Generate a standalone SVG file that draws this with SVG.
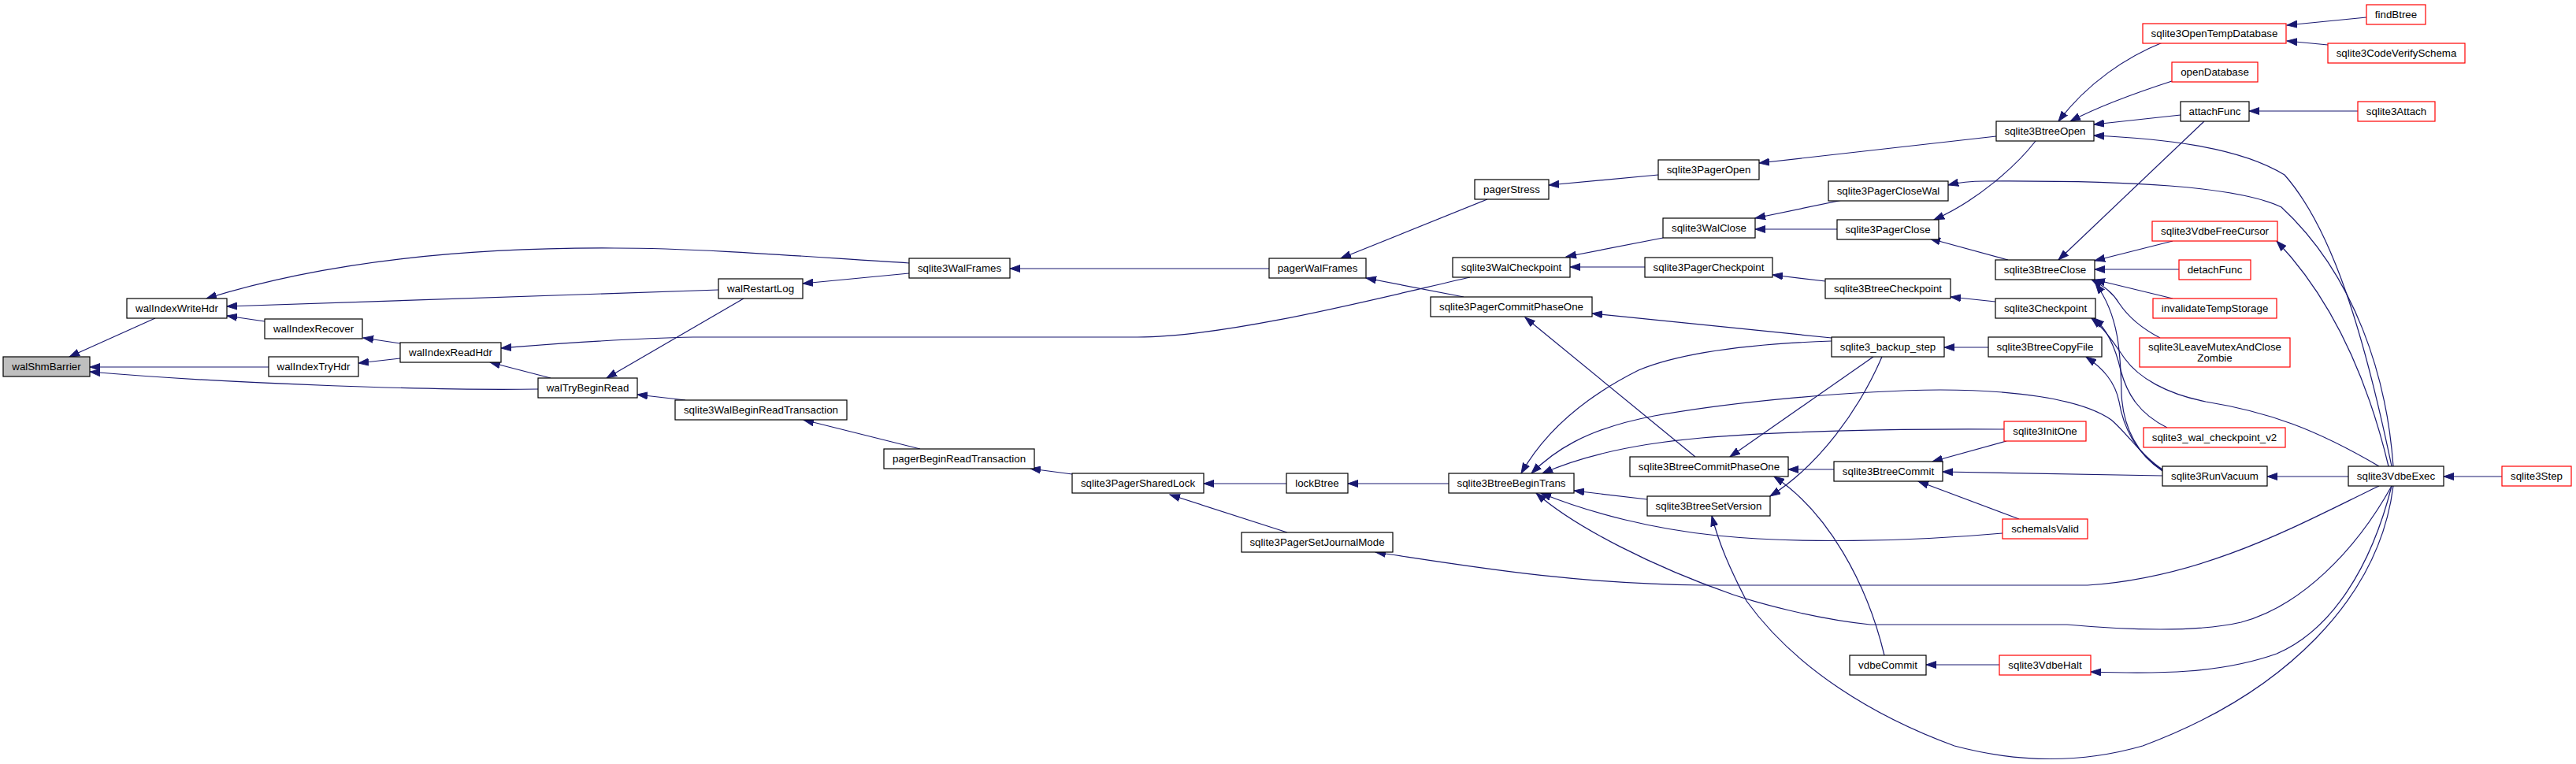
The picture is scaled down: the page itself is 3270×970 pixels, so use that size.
<svg xmlns="http://www.w3.org/2000/svg" width="3270" height="970" viewBox="0 0 3270 970">
<defs>
<marker id="a" markerWidth="14" markerHeight="10" refX="13" refY="5" orient="auto" markerUnits="userSpaceOnUse"><path d="M0,0.5 L13,5 L0,9.5 z" fill="#191970" stroke="#191970" stroke-width="1"/></marker>
<style>
rect{fill:#ffffff;stroke:#000000;stroke-width:1.2}
.r rect{stroke:#ff0000}
.g rect{fill:#bfbfbf}
text{font-family:"Liberation Sans",Arial,Helvetica,sans-serif;font-size:13.33px;fill:#000000;text-anchor:middle}
#edges path{fill:none;stroke:#191970;stroke-width:1.2;marker-end:url(#a)}
</style>
</defs>
<rect x="0" y="0" width="3270" height="970" style="fill:#ffffff;stroke:none"/>
<g id="edges">
<path d="M197,404 L88,453"/>
<path d="M341,466 L114,466"/>
<path d="M683,494 C560,496 300,488 114,472"/>
<path d="M1154,334 C1050,328 900,315 780,315 C600,314 420,330 262,379"/>
<path d="M912,368 L288,389"/>
<path d="M336,408 L288,401"/>
<path d="M508,436 L461,429"/>
<path d="M508,455 L455,461"/>
<path d="M1866,352 C1760,376 1560,428 1444,428 L880,428 C780,430 700,437 636,442"/>
<path d="M699,480 L622,460"/>
<path d="M944,379 L770,480"/>
<path d="M870,508 L809,501"/>
<path d="M1154,347 L1019,360"/>
<path d="M1611,341 L1282,341"/>
<path d="M1168,570 L1020,533"/>
<path d="M1361,602 L1308,595"/>
<path d="M1633,614 L1528,614"/>
<path d="M1634,676 L1485,628"/>
<path d="M1839,614 L1711,614"/>
<path d="M1888,253 L1702,328"/>
<path d="M1858,377 L1734,353"/>
<path d="M2105,222 L1966,235"/>
<path d="M2534,173 L2233,207"/>
<path d="M2111,302 L1988,326"/>
<path d="M2088,339 L1993,339"/>
<path d="M2339,254 L2228,277"/>
<path d="M2332,291 L2228,291"/>
<path d="M3038,592 C3030,480 2990,350 2896,263 C2840,236 2700,229 2520,230 C2500,230 2485,232 2473,235"/>
<path d="M2584,179 C2560,210 2510,255 2455,279"/>
<path d="M2549,330 L2450,303"/>
<path d="M2317,357 L2250,349"/>
<path d="M2533,383 L2476,377"/>
<path d="M2325,429 L2021,398"/>
<path d="M2152,580 L1936,403"/>
<path d="M2325,433 C2240,436 2140,445 2080,470 C2010,505 1960,550 1931,601"/>
<path d="M2745,596 C2720,580 2700,550 2680,533 C2640,505 2550,495 2463,495 C2350,496 2200,510 2100,528 C2010,545 1970,575 1944,601"/>
<path d="M2544,545 C2400,544 2250,548 2160,556 C2080,563 2010,578 1958,601"/>
<path d="M2091,634 L1998,623"/>
<path d="M2542,677 C2420,688 2280,690 2180,680 C2100,672 2020,652 1956,626"/>
<path d="M3036,617 C2990,700 2920,770 2845,790 C2790,803 2700,800 2624,793 L2374,793 C2300,785 2230,765 2200,755 C2100,720 2000,670 1950,626"/>
<path d="M3020,617 C2920,665 2800,733 2650,743 L2160,743 C1990,741 1860,718 1746,701"/>
<path d="M2378,453 L2196,580"/>
<path d="M2328,596 L2270,596"/>
<path d="M2392,832 C2370,740 2320,650 2252,605"/>
<path d="M2389,453 C2360,520 2310,590 2247,630"/>
<path d="M3038,617 C3020,760 2900,880 2720,947 C2640,970 2560,968 2481,947 C2380,910 2280,850 2217,763 C2195,720 2182,690 2173,655"/>
<path d="M2745,54 C2700,72 2650,105 2613,154"/>
<path d="M2757,103 C2720,115 2670,132 2628,154"/>
<path d="M2768,146 L2658,158"/>
<path d="M3036,592 C3000,420 2960,290 2900,222 C2840,185 2740,176 2658,172"/>
<path d="M2798,154 L2613,330"/>
<path d="M2758,306 L2659,331"/>
<path d="M2766,342 L2659,342"/>
<path d="M2758,379 L2659,355"/>
<path d="M2742,429 C2715,415 2700,400 2690,385 C2682,372 2672,364 2655,355"/>
<path d="M2745,598 C2715,578 2695,545 2693,500 C2692,450 2690,400 2660,360"/>
<path d="M2751,543 C2715,525 2700,500 2692,470 C2685,440 2675,418 2658,404"/>
<path d="M3020,592 C2940,545 2880,523 2800,510 C2750,500 2715,480 2697,455 C2683,435 2672,418 2655,404"/>
<path d="M2745,597 C2710,575 2695,540 2690,510 C2685,485 2670,468 2648,453"/>
<path d="M2547,560 L2453,586"/>
<path d="M2745,604 L2466,599"/>
<path d="M2563,659 L2435,611"/>
<path d="M2538,844 L2445,844"/>
<path d="M3036,617 C3010,720 2960,800 2890,830 C2820,855 2740,856 2654,853"/>
<path d="M2981,605 L2878,605"/>
<path d="M3176,605 L3102,605"/>
<path d="M3004,22 L2903,32"/>
<path d="M2955,57 L2903,52"/>
<path d="M2993,141 L2855,141"/>
<path d="M3032,592 C3010,500 2970,390 2890,306"/>
<path d="M2524,441 L2468,441"/>
</g>
<g id="walShmBarrier" class="g"><rect x="4" y="453" width="110" height="25"/><text x="59" y="470">walShmBarrier</text></g>
<g id="walIndexWriteHdr"><rect x="161" y="379" width="127" height="25"/><text x="224.5" y="396">walIndexWriteHdr</text></g>
<g id="walIndexRecover"><rect x="336" y="405" width="124" height="25"/><text x="398" y="422">walIndexRecover</text></g>
<g id="walIndexTryHdr"><rect x="341" y="453" width="114" height="25"/><text x="398" y="470">walIndexTryHdr</text></g>
<g id="walIndexReadHdr"><rect x="508" y="435" width="128" height="25"/><text x="572" y="452">walIndexReadHdr</text></g>
<g id="walRestartLog"><rect x="912" y="354" width="107" height="25"/><text x="965.5" y="371">walRestartLog</text></g>
<g id="walTryBeginRead"><rect x="683" y="480" width="126" height="25"/><text x="746" y="497">walTryBeginRead</text></g>
<g id="sqlite3WalBeginReadTransaction"><rect x="857" y="508" width="218" height="25"/><text x="966" y="525">sqlite3WalBeginReadTransaction</text></g>
<g id="sqlite3WalFrames"><rect x="1154" y="328" width="128" height="25"/><text x="1218" y="345">sqlite3WalFrames</text></g>
<g id="pagerBeginReadTransaction"><rect x="1122" y="570" width="191" height="25"/><text x="1217.5" y="587">pagerBeginReadTransaction</text></g>
<g id="pagerWalFrames"><rect x="1611" y="328" width="123" height="25"/><text x="1672.5" y="345">pagerWalFrames</text></g>
<g id="sqlite3PagerSharedLock"><rect x="1361" y="601" width="167" height="25"/><text x="1444.5" y="618">sqlite3PagerSharedLock</text></g>
<g id="lockBtree"><rect x="1633" y="601" width="78" height="25"/><text x="1672" y="618">lockBtree</text></g>
<g id="sqlite3PagerSetJournalMode"><rect x="1576" y="676" width="192" height="25"/><text x="1672" y="693">sqlite3PagerSetJournalMode</text></g>
<g id="pagerStress"><rect x="1872" y="228" width="94" height="25"/><text x="1919" y="245">pagerStress</text></g>
<g id="sqlite3WalCheckpoint"><rect x="1844" y="327" width="149" height="25"/><text x="1918.5" y="344">sqlite3WalCheckpoint</text></g>
<g id="sqlite3PagerCommitPhaseOne"><rect x="1816" y="377" width="205" height="25"/><text x="1918.5" y="394">sqlite3PagerCommitPhaseOne</text></g>
<g id="sqlite3BtreeBeginTrans"><rect x="1839" y="601" width="159" height="25"/><text x="1918.5" y="618">sqlite3BtreeBeginTrans</text></g>
<g id="sqlite3PagerOpen"><rect x="2105" y="203" width="128" height="25"/><text x="2169" y="220">sqlite3PagerOpen</text></g>
<g id="sqlite3WalClose"><rect x="2111" y="277" width="117" height="25"/><text x="2169.5" y="294">sqlite3WalClose</text></g>
<g id="sqlite3PagerCheckpoint"><rect x="2088" y="327" width="162" height="25"/><text x="2169" y="344">sqlite3PagerCheckpoint</text></g>
<g id="sqlite3BtreeCommitPhaseOne"><rect x="2069" y="580" width="201" height="25"/><text x="2169.5" y="597">sqlite3BtreeCommitPhaseOne</text></g>
<g id="sqlite3BtreeSetVersion"><rect x="2091" y="630" width="156" height="25"/><text x="2169" y="647">sqlite3BtreeSetVersion</text></g>
<g id="sqlite3BtreeOpen"><rect x="2534" y="154" width="124" height="25"/><text x="2596" y="171">sqlite3BtreeOpen</text></g>
<g id="sqlite3PagerCloseWal"><rect x="2321" y="230" width="152" height="25"/><text x="2397" y="247">sqlite3PagerCloseWal</text></g>
<g id="sqlite3PagerClose"><rect x="2332" y="279" width="129" height="25"/><text x="2396.5" y="296">sqlite3PagerClose</text></g>
<g id="sqlite3BtreeClose"><rect x="2533" y="330" width="126" height="25"/><text x="2596" y="347">sqlite3BtreeClose</text></g>
<g id="sqlite3BtreeCheckpoint"><rect x="2317" y="354" width="159" height="25"/><text x="2396.5" y="371">sqlite3BtreeCheckpoint</text></g>
<g id="sqlite3Checkpoint"><rect x="2533" y="379" width="127" height="25"/><text x="2596.5" y="396">sqlite3Checkpoint</text></g>
<g id="sqlite3_backup_step"><rect x="2325" y="428" width="143" height="25"/><text x="2396.5" y="445">sqlite3_backup_step</text></g>
<g id="sqlite3BtreeCopyFile"><rect x="2524" y="428" width="144" height="25"/><text x="2596" y="445">sqlite3BtreeCopyFile</text></g>
<g id="sqlite3InitOne" class="r"><rect x="2544" y="535" width="104" height="25"/><text x="2596" y="552">sqlite3InitOne</text></g>
<g id="sqlite3BtreeCommit"><rect x="2328" y="586" width="138" height="25"/><text x="2397" y="603">sqlite3BtreeCommit</text></g>
<g id="schemaIsValid" class="r"><rect x="2542" y="659" width="108" height="25"/><text x="2596" y="676">schemaIsValid</text></g>
<g id="vdbeCommit"><rect x="2348" y="832" width="97" height="25"/><text x="2396.5" y="849">vdbeCommit</text></g>
<g id="sqlite3VdbeHalt" class="r"><rect x="2538" y="832" width="116" height="25"/><text x="2596" y="849">sqlite3VdbeHalt</text></g>
<g id="sqlite3OpenTempDatabase" class="r"><rect x="2720" y="30" width="182" height="25"/><text x="2811" y="47">sqlite3OpenTempDatabase</text></g>
<g id="findBtree" class="r"><rect x="3004" y="6" width="75" height="25"/><text x="3041.5" y="23">findBtree</text></g>
<g id="sqlite3CodeVerifySchema" class="r"><rect x="2955" y="55" width="174" height="25"/><text x="3042" y="72">sqlite3CodeVerifySchema</text></g>
<g id="openDatabase" class="r"><rect x="2757" y="79" width="109" height="25"/><text x="2811.5" y="96">openDatabase</text></g>
<g id="attachFunc"><rect x="2768" y="129" width="87" height="25"/><text x="2811.5" y="146">attachFunc</text></g>
<g id="sqlite3Attach" class="r"><rect x="2993" y="129" width="98" height="25"/><text x="3042" y="146">sqlite3Attach</text></g>
<g id="sqlite3VdbeFreeCursor" class="r"><rect x="2732" y="281" width="159" height="25"/><text x="2811.5" y="298">sqlite3VdbeFreeCursor</text></g>
<g id="detachFunc" class="r"><rect x="2766" y="330" width="91" height="25"/><text x="2811.5" y="347">detachFunc</text></g>
<g id="invalidateTempStorage" class="r"><rect x="2733" y="379" width="157" height="25"/><text x="2811.5" y="396">invalidateTempStorage</text></g>
<g id="sqlite3LeaveMutexAndCloseZombie" class="r"><rect x="2716" y="429" width="191" height="37"/><text x="2811.5" y="445">sqlite3LeaveMutexAndClose</text><text x="2811.5" y="459">Zombie</text></g>
<g id="sqlite3_wal_checkpoint_v2" class="r"><rect x="2721" y="543" width="180" height="25"/><text x="2811" y="560">sqlite3_wal_checkpoint_v2</text></g>
<g id="sqlite3RunVacuum"><rect x="2745" y="592" width="133" height="25"/><text x="2811.5" y="609">sqlite3RunVacuum</text></g>
<g id="sqlite3VdbeExec"><rect x="2981" y="592" width="121" height="25"/><text x="3041.5" y="609">sqlite3VdbeExec</text></g>
<g id="sqlite3Step" class="r"><rect x="3176" y="592" width="88" height="25"/><text x="3220" y="609">sqlite3Step</text></g>
</svg>
